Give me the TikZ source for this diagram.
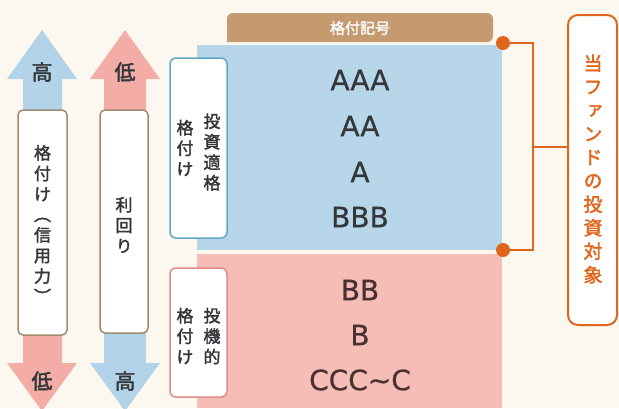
\documentclass[tikz,border=0pt]{standalone}
\usepackage{fontspec}
\newfontfamily\cjk[FakeBold=2]{Noto Sans CJK JP}
\newfontfamily\cjkv[RawFeature=+vert,FakeBold=2]{Noto Sans CJK JP}
\newfontfamily\latn[FakeBold=0.6]{DejaVu Sans}
\definecolor{bgc}{HTML}{FCF8EF}
\definecolor{bluef}{HTML}{B8D6EA}
\definecolor{redf}{HTML}{F6BDB6}
\definecolor{arrblue}{HTML}{B3D3E8}
\definecolor{arrred}{HTML}{F3ADA6}
\definecolor{tabc}{HTML}{C49A6E}
\definecolor{brownl}{HTML}{A08A70}
\definecolor{bluel}{HTML}{62A6C4}
\definecolor{redl}{HTML}{E38A8A}
\definecolor{orangec}{HTML}{E0661C}
\definecolor{txt}{HTML}{33373A}
\definecolor{txtr}{HTML}{4A3030}
\begin{document}
\begin{tikzpicture}[x=1pt,y=-1pt,
  vt/.style={align=center,inner sep=0pt,text=txt,font=\cjkv\fontsize{17}{20.5}\selectfont},
  hl/.style={inner sep=0pt,text=txt,font=\cjk\fontsize{21}{22}\selectfont},
  rating/.style={inner sep=0pt,font=\latn\fontsize{28}{30}\selectfont},
  sidebox/.style={draw=brownl,line width=1.5pt,fill=white,rounded corners=5pt},
  grpbox/.style={line width=1.5pt,fill=white,rounded corners=6pt},
  dotc/.style={circle,fill=orangec,inner sep=0pt,minimum size=14pt},
  oline/.style={draw=orangec,line width=2.2pt}]
\useasboundingbox (0,0) rectangle (619,408);
\clip (0,0) rectangle (619,408);
\fill[bgc] (0,0) rectangle (619,408);
% left arrows
\fill[arrblue] (42,30) -- (77,79) -- (62,79) -- (62,222) -- (23,222) -- (23,79) -- (7,79) -- cycle;
\fill[arrred] (23,222) -- (62,222) -- (62,363) -- (77,363) -- (42,411) -- (7,363) -- (23,363) -- cycle;
\fill[arrred] (125,30) -- (160,79) -- (146,79) -- (146,222) -- (104,222) -- (104,79) -- (90,79) -- cycle;
\fill[arrblue] (104,222) -- (146,222) -- (146,363) -- (160,363) -- (125,411) -- (90,363) -- (104,363) -- cycle;
\node[hl] (h1) at (42,72) {高};
\node[hl] (l1) at (42,381) {低};
\node[hl] (l2) at (125,72) {低};
\node[hl] (h2) at (125,381) {高};
\node[sidebox,minimum width=49pt,minimum height=225pt] (b1) at (42.5,222.5) {};
\node[vt] (t1) at (42.5,224) {格\\付\\け\\︵\\信\\用\\力\\︶};
\node[sidebox,minimum width=48pt,minimum height=223pt] (b2) at (124,221.5) {};
\node[vt] (t2) at (124,225) {利\\回\\り};
% rating panels
\fill[bluef] (197,45) rectangle (502,250);
\fill[redf] (197,254) rectangle (502,408);
\fill[tabc,rounded corners=6pt] (227,42) -- (227,13) -- (493,13) -- (493,42) [sharp corners] -- cycle;
\node[inner sep=0pt,text=white,font=\cjk\fontsize{15}{16}\selectfont] (tab) at (360,28) {格付記号};
\node[grpbox,draw=bluel,minimum width=57pt,minimum height=180pt] (g1) at (198.5,148) {};
\node[vt] at (212,152) {投\\資\\適\\格};
\node[vt] at (185,148) {格\\付\\け};
\node[grpbox,draw=redl,minimum width=57pt,minimum height=129pt] (g2) at (198.5,332.5) {};
\node[vt] at (212,336) {投\\機\\的};
\node[vt] at (185,336) {格\\付\\け};
\node[rating,text=txt] at (360,80) {AAA};
\node[rating,text=txt] at (360,126) {AA};
\node[rating,text=txt] at (360,172) {A};
\node[rating,text=txt] at (360,217) {BBB};
\node[rating,text=txtr] at (360,290) {BB};
\node[rating,text=txtr] at (360,335) {B};
\node[rating,text=txtr] at (360,380) {CCC\textasciitilde C};
% right bracket
\node[draw=orangec,line width=2pt,fill=white,rounded corners=10pt,minimum width=49pt,minimum height=310pt] (fund) at (592.5,170) {};
\node[align=center,inner sep=0pt,text=orangec,font=\cjkv\fontsize{19}{23.5}\selectfont] at (593,169) {当\\フ\\ァ\\ン\\ド\\の\\投\\資\\対\\象};
\node[dotc] (d1) at (503,43) {};
\node[dotc] (d2) at (503,250) {};
\coordinate (c1) at (533,43);
\coordinate (c2) at (533,250);
\coordinate (cm) at (533,147);
\draw[oline] (d1.center) -- (c1) -- (c2) -- (d2.center);
\draw[oline] (cm) -- (fund.west |- cm);
\end{tikzpicture}
\end{document}
